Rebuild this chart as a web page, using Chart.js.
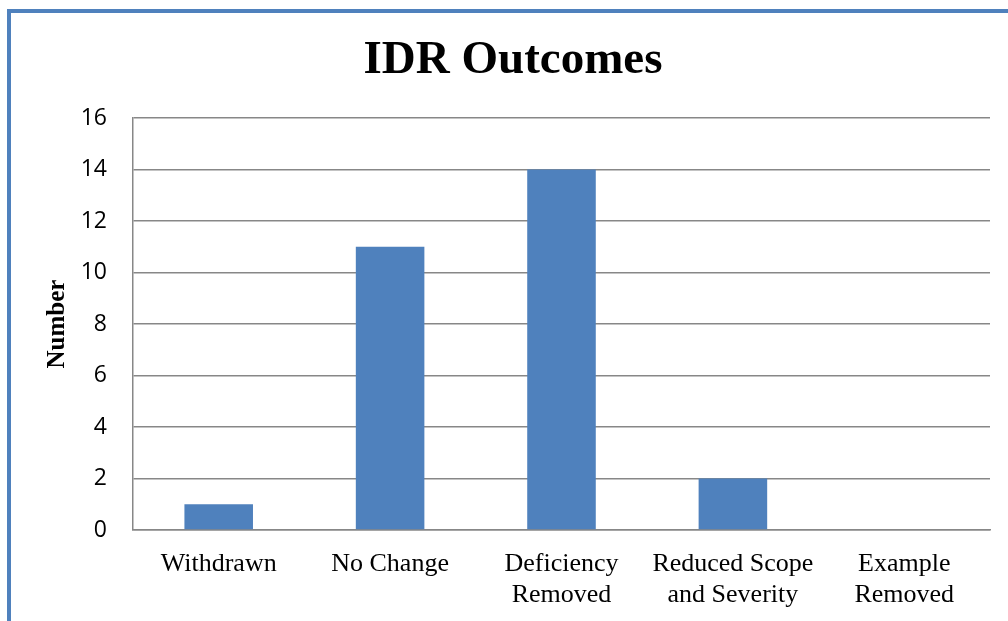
<!DOCTYPE html>
<html>
<head>
<meta charset="utf-8">
<script src="https://cdn.jsdelivr.net/npm/chart.js@4/dist/chart.umd.min.js"></script>
<style>
  html, body { margin: 0; padding: 0; background: #ffffff; }
  #frame { position: absolute; left: 7px; top: 9px; width: 1010px; height: 620px;
           border-left: 4px solid #4F81BD; border-top: 4px solid #4F81BD; box-sizing: border-box; }
  #wrap { position: absolute; left: 0; top: 0; width: 1008px; height: 621px; }
</style>
</head>
<body>
<div id="frame"></div>
<div id="wrap"><canvas id="c" width="1008" height="621"></canvas></div>
<script>
const categories = [["Withdrawn"], ["No Change"], ["Deficiency", "Removed"], ["Reduced Scope", "and Severity"], ["Example", "Removed"]];
const values = [1, 11, 14, 2, 0];
const yTicks = [0, 2, 4, 6, 8, 10, 12, 14, 16];

const gridGray = '#878787';

new Chart(document.getElementById('c'), {
  type: 'bar',
  data: {
    labels: categories,
    datasets: [{
      label: 'Number',
      data: values,
      backgroundColor: '#4F81BD',
      borderWidth: 0,
      categoryPercentage: 1.0,
      barPercentage: 0.4
    }]
  },
  options: {
    responsive: false,
    animation: false,
    devicePixelRatio: 1,
    layout: { padding: { left: 36, right: 18, top: 0, bottom: 0 } },
    plugins: {
      legend: { display: false },
      tooltip: { enabled: false },
      title: {
        display: true,
        text: 'IDR Outcomes',
        color: '#000000',
        font: { family: '"Liberation Serif", "Times New Roman", serif', size: 47, weight: 'bold', lineHeight: 1.2 },
        padding: { top: 33, bottom: 28.6 }
      }
    },
    scales: {
      x: {
        grid: { display: false, drawTicks: false },
        border: { display: true, color: gridGray, width: 1.5 },
        ticks: {
          color: '#000000',
          padding: 19,
          maxRotation: 0,
          autoSkip: false,
          font: { family: '"Liberation Serif", "Times New Roman", serif', size: 26, lineHeight: 1.18 }
        },
        afterFit: (s) => { s.height = 91; }
      },
      y: {
        min: 0,
        max: 16,
        afterBuildTicks: (s) => { s.ticks = yTicks.map(v => ({ value: v })); },
        grid: { color: gridGray, lineWidth: 1.5, drawTicks: false },
        border: { display: true, color: gridGray, width: 1.5 },
        ticks: {
          color: '#000000',
          padding: 26,
          font: { family: '"Open Sans", "Liberation Sans", sans-serif', size: 23 }
        },
        title: {
          display: true,
          text: 'Number',
          color: '#000000',
          font: { family: '"Liberation Serif", "Times New Roman", serif', size: 25, weight: 'bold', lineHeight: 1.2 },
          padding: { top: 7, bottom: 0 }
        },
        afterFit: (s) => { s.width = 97; }
      }
    }
  }
});
</script>
</body>
</html>
